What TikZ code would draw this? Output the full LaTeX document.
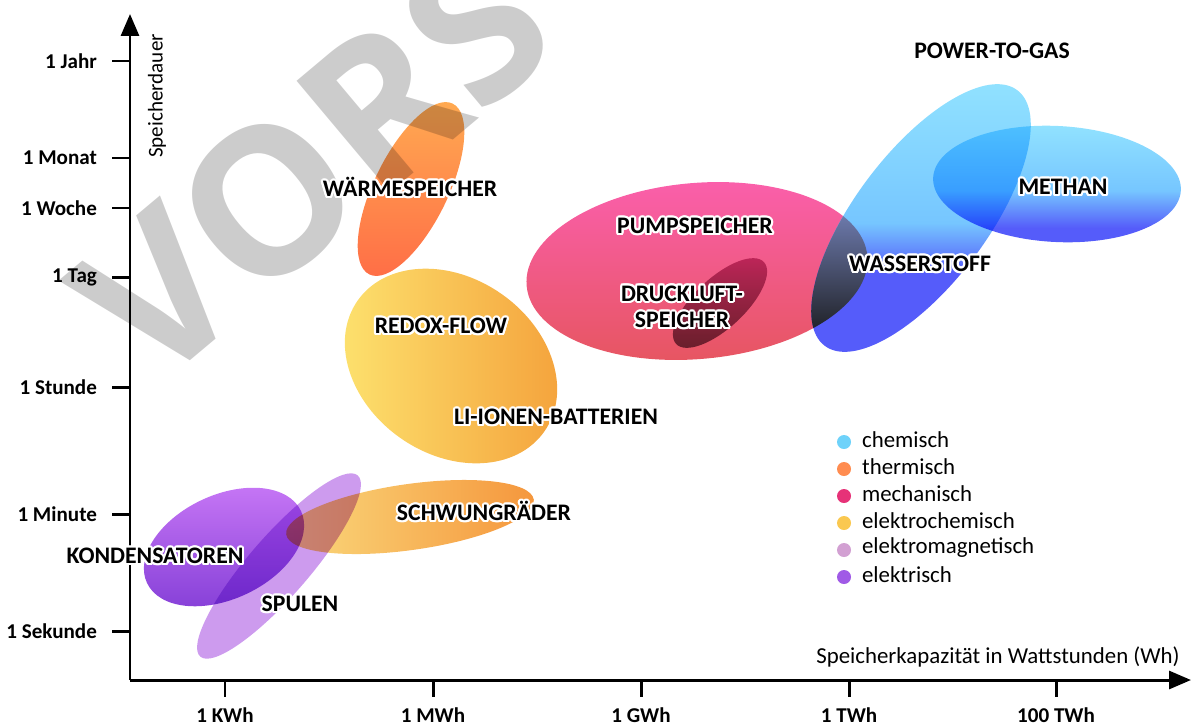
\documentclass[tikz,border=0pt]{standalone}
\usepackage{fontspec}
\setmainfont{Carlito}
\newfontfamily\wmfont{Open Sans}
\usepackage{contour}
\contourlength{1.2pt}
\usetikzlibrary{arrows.meta}

\definecolor{chemcol}{RGB}{110,210,250}
\definecolor{thermcol}{RGB}{255,140,80}
\definecolor{mechcol}{RGB}{230,50,120}
\definecolor{ecchemcol}{RGB}{250,200,80}
\definecolor{emagcol}{RGB}{210,160,210}
\definecolor{elcol}{RGB}{160,90,230}
\definecolor{cyanlt}{RGB}{145,226,255}
\definecolor{cyanmid}{RGB}{118,198,255}
\definecolor{bluedk}{RGB}{85,92,250}

% gas shadings: blue below, cyan above
\pgfdeclareverticalshading{hydrogen}{100bp}{color(0bp)=(bluedk); color(40bp)=(bluedk); color(49bp)=(cyanmid); color(75bp)=(cyanlt); color(100bp)=(cyanlt)}
\pgfdeclareverticalshading{methane}{100bp}{color(0bp)=(bluedk); color(31bp)=(bluedk); color(47bp)=(cyanmid); color(75bp)=(cyanlt); color(100bp)=(cyanlt)}

\newcommand{\halo}[1]{\contour{white}{#1}}
\newcommand{\pumppath}{[shift={(697,271)}, rotate=5] (0,0) ellipse [x radius=171, y radius=88]}
\newcommand{\wasserpath}{[shift={(921,218)}, rotate=53] (0,0) ellipse [x radius=160, y radius=66]}

\begin{document}
\begin{tikzpicture}[x=0.02cm, y=-0.02cm, >={Triangle[length=4.4mm,width=3.6mm]},
  every node/.style={font=\fontsize{12}{14}\selectfont, inner sep=1pt},
  tick/.style={font=\fontsize{12}{14}\selectfont\bfseries},
  tech/.style={font=\fontsize{13.5}{15}\selectfont\bfseries, align=center},
  axis/.style={line width=1.7pt},
  blob/.style={blend mode=multiply}]
	\useasboundingbox (0,0) rectangle (1192,727);
	\clip (0,0) rectangle (1192,727);
	% storage ranges
	\shade[blob, top color={rgb,255:red,255;green,172;blue,82}, bottom color={rgb,255:red,255;green,108;blue,70}, shift={(411,189)}, rotate=64] (0,0) ellipse [x radius=95, y radius=37];
	\shade[blob, left color={rgb,255:red,253;green,228;blue,112}, right color={rgb,255:red,244;green,160;blue,58}, shift={(451,366)}, rotate=-35] (0,0) ellipse [x radius=114, y radius=88];
	\shade[blob, left color={rgb,255:red,250;green,218;blue,125}, right color={rgb,255:red,245;green,150;blue,60}, shift={(410,517)}, rotate=8] (0,0) ellipse [x radius=125, y radius=33];
	\shade[blob, top color={rgb,255:red,198;green,118;blue,245}, bottom color={rgb,255:red,132;green,62;blue,215}, shift={(224,547)}, rotate=25] (0,0) ellipse [x radius=85, y radius=52];
	\fill[blob, fill={rgb,255:red,205;green,155;blue,238}, shift={(279,566)}, rotate=49] (0,0) ellipse [x radius=120, y radius=30];
	\shade[blob, top color={rgb,255:red,250;green,95;blue,170}, bottom color={rgb,255:red,230;green,85;blue,95}] \pumppath;
	\shade[blob, top color={rgb,255:red,204;green,107;blue,165}, bottom color={rgb,255:red,111;green,90;blue,107}, shift={(720,303)}, rotate=43] (0,0) ellipse [x radius=60, y radius=25];
	\begin{scope}
		\clip \wasserpath;
		\shade[shading=hydrogen] (800,82) rectangle (1040,353);
	\end{scope}
	\begin{scope}
		\clip[shift={(1057,184)}, rotate=-3] (0,0) ellipse [x radius=124, y radius=58];
		\shade[blob, shading=methane] (930,125) rectangle (1185,242);
	\end{scope}
	% overlap pump / hydrogen
	\begin{scope}
		\clip \pumppath;
		\clip \wasserpath;
		\shade[top color={rgb,255:red,125;green,140;blue,200}, middle color={rgb,255:red,70;green,80;blue,120}, bottom color={rgb,255:red,32;green,34;blue,40}] (800,190) rectangle (880,330);
	\end{scope}
	% watermark
	\node[rotate=40, anchor=base west, inner sep=0pt, font=\wmfont\bfseries\fontsize{116}{116}\selectfont, text=black, text opacity=0.2] (wm) at (152,393) {VORS};
	% axes
	\coordinate (O) at (130,680);
	\coordinate (ytip) at (130,14);
	\coordinate (xtip) at (1191,680);
	\draw[axis, ->] (O) -- (ytip);
	\draw[axis, ->] (O) -- (xtip);
	\foreach \yy/\lab in {61/1 Jahr, 158/1 Monat, 208/1 Woche, 277/1 Tag, 387/1 Stunde, 514/1 Minute, 631/1 Sekunde}
	{
		\draw[axis] (112,\yy) -- (130,\yy);
		\node[tick, anchor=east] at (99,\yy) {\lab};
	}
	\foreach \xx/\lab in {225/1 KWh, 433/1 MWh, 641/1 GWh, 849/1 TWh, 1056/100 TWh}
	{
		\draw[axis] (\xx,680) -- (\xx,697);
		\node[tick] at (\xx,715) {\lab};
	}
	\node[rotate=90] (ylab) at (157,96) {Speicherdauer};
	\node[font=\fontsize{13}{15}\selectfont] (xlab) at (998,657) {Speicherkapazität in Wattstunden (Wh)};
	% labels
	\node[tech] (ptg) at (992,51) {POWER-TO-GAS};
	\node[tech] (methan) at (1063,188) {\halo{METHAN}};
	\node[tech] (waerme) at (410,188) {\halo{WÄRMESPEICHER}};
	\node[tech] (pump) at (695,227) {\halo{PUMPSPEICHER}};
	\node[tech] (wasser) at (920,265) {\halo{WASSERSTOFF}};
	\node[tech] (druck) at (682,308) {\halo{DRUCKLUFT-}\\\halo{SPEICHER}};
	\node[tech] (redox) at (441,327) {\halo{REDOX-FLOW}};
	\node[tech] (liion) at (556,418) {\halo{LI-IONEN-BATTERIEN}};
	\node[tech] (schwung) at (484,512) {\halo{SCHWUNGRÄDER}};
	\node[tech] (konden) at (155,557) {\halo{KONDENSATOREN}};
	\node[tech] (spulen) at (300,605) {\halo{SPULEN}};
	% legend
	\foreach \col/\lab [count=\i] in {chemcol/chemisch, thermcol/thermisch, mechcol/mechanisch, ecchemcol/elektrochemisch, emagcol/elektromagnetisch, elcol/elektrisch}
	{
		\fill[\col] (844,415+27*\i) circle (7);
		\node[anchor=west, font=\fontsize{13}{15}\selectfont] at (860,413+27*\i) {\lab};
	}
\end{tikzpicture}
\end{document}
